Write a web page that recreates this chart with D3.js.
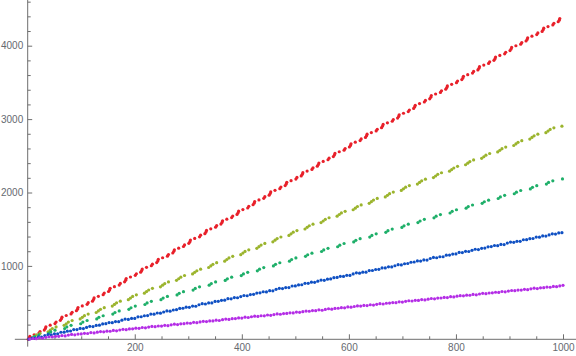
<!DOCTYPE html>
<html><head><meta charset="utf-8">
<script src="https://cdn.jsdelivr.net/npm/d3@7"></script>
<style>html,body{margin:0;padding:0;background:#fff;}svg{display:block;}</style>
</head><body>
<svg id="chart" width="576" height="356"></svg>
<script>
// ---- data ----
const xTicks = [200, 400, 600, 800, 1000];
const xMinorTicks = [50,100,150,250,300,350,450,500,550,650,700,750,850,900,950];
const yTicks = [1000, 2000, 3000, 4000];
const yMinorTicks = [200,400,600,800,1200,1400,1600,1800,2200,2400,2600,2800,3200,3400,3600,3800,4200,4400,4600];

const seriesColors = ["#E8202A", "#9BB42D", "#1EAF69", "#0F50C3", "#B42DE6"];

const redPts = [[1,2],[3,20],[4,40],[12,62],[21,86],[23,106],
[31,126],[33,148],[34,170],[42,192],[51,214],[53,236],
[61,258],[63,280],[64,302],[72,324],[81,346],[83,368],
[91,389],[93,411],[94,433],[102,455],[111,477],[113,499],
[121,520],[123,542],[124,564],[132,586],[141,608],[143,630],
[151,651],[153,673],[154,695],[162,717],[171,739],[173,761],
[181,783],[183,805],[184,827],[192,849],[201,871],[203,893],
[211,914],[213,936],[214,958],[222,980],[231,1002],[233,1024],
[241,1045],[243,1067],[244,1089],[252,1111],[261,1133],[263,1155],
[271,1176],[273,1198],[274,1220],[282,1242],[291,1264],[293,1286],
[301,1308],[303,1330],[304,1352],[312,1374],[321,1396],[323,1418],
[331,1439],[333,1461],[334,1483],[342,1505],[351,1527],[353,1549],
[361,1570],[363,1592],[364,1614],[372,1636],[381,1658],[383,1680],
[391,1701],[393,1723],[394,1745],[402,1767],[411,1789],[413,1811],
[421,1833],[423,1855],[424,1877],[432,1899],[441,1921],[443,1943],
[451,1964],[453,1986],[454,2008],[462,2030],[471,2052],[473,2074],
[481,2095],[483,2117],[484,2139],[492,2161],[501,2183],[503,2205],
[511,2226],[513,2248],[514,2270],[522,2292],[531,2314],[533,2336],
[541,2358],[543,2380],[544,2402],[552,2424],[561,2446],[563,2468],
[571,2489],[573,2511],[574,2533],[582,2555],[591,2577],[593,2599],
[601,2620],[603,2642],[604,2664],[612,2686],[621,2708],[623,2730],
[631,2751],[633,2773],[634,2795],[642,2817],[651,2839],[653,2861],
[661,2883],[663,2905],[664,2927],[672,2949],[681,2971],[683,2993],
[691,3014],[693,3036],[694,3058],[702,3080],[711,3102],[713,3124],
[721,3145],[723,3167],[724,3189],[732,3211],[741,3233],[743,3255],
[751,3276],[753,3298],[754,3320],[762,3342],[771,3364],[773,3386],
[781,3408],[783,3430],[784,3452],[792,3474],[801,3496],[803,3518],
[811,3539],[813,3561],[814,3583],[822,3605],[831,3627],[833,3649],
[841,3670],[843,3692],[844,3714],[852,3736],[861,3758],[863,3780],
[871,3801],[873,3823],[874,3845],[882,3867],[891,3889],[893,3911],
[901,3933],[903,3955],[904,3977],[912,3999],[921,4021],[923,4043],
[931,4064],[933,4086],[934,4108],[942,4130],[951,4152],[953,4174],
[961,4195],[963,4217],[964,4239],[972,4261],[981,4283],[983,4305],
[991,4326],[993,4348],[994,4370]];

const yellowGreenPts = [[8,15],[12,37],[16,59],[23,81],
[38,103],[42,125],[46,147],[53,169],
[68,190],[72,212],[76,234],[83,256],
[98,278],[102,300],[106,322],[113,344],
[128,365],[132,387],[136,409],[143,431],
[158,453],[162,475],[166,497],[173,519],
[188,540],[192,562],[196,584],[203,606],
[218,628],[222,650],[226,672],[233,694],
[248,715],[252,737],[256,759],[263,781],
[278,803],[282,825],[286,847],[293,869],
[308,890],[312,912],[316,934],[323,956],
[338,978],[342,1000],[346,1022],[353,1044],
[368,1065],[372,1087],[376,1109],[383,1131],
[398,1153],[402,1175],[406,1197],[413,1219],
[428,1240],[432,1262],[436,1284],[443,1306],
[458,1328],[462,1350],[466,1372],[473,1394],
[488,1415],[492,1437],[496,1459],[503,1481],
[518,1503],[522,1525],[526,1547],[533,1569],
[548,1590],[552,1612],[556,1634],[563,1656],
[578,1678],[582,1700],[586,1722],[593,1744],
[608,1765],[612,1787],[616,1809],[623,1831],
[638,1853],[642,1875],[646,1897],[653,1919],
[668,1940],[672,1962],[676,1984],[683,2006],
[698,2028],[702,2050],[706,2072],[713,2094],
[728,2115],[732,2137],[736,2159],[743,2181],
[758,2203],[762,2225],[766,2247],[773,2269],
[788,2290],[792,2312],[796,2334],[803,2356],
[818,2378],[822,2400],[826,2422],[833,2444],
[848,2465],[852,2487],[856,2509],[863,2531],
[878,2553],[882,2575],[886,2597],[893,2619],
[908,2640],[912,2662],[916,2684],[923,2706],
[938,2728],[942,2750],[946,2772],[953,2794],
[968,2815],[972,2837],[976,2859],[983,2881],
[998,2903]];

const greenPts = [[9,15],[13,37],[21,59],
[39,80],[43,102],[51,124],
[69,146],[73,168],[81,190],
[99,212],[103,234],[111,256],
[129,277],[133,299],[141,321],
[159,343],[163,365],[171,387],
[189,408],[193,430],[201,452],
[219,474],[223,496],[231,518],
[249,540],[253,562],[261,584],
[279,605],[283,627],[291,649],
[309,671],[313,693],[321,715],
[339,737],[343,759],[351,781],
[369,802],[373,824],[381,846],
[399,868],[403,890],[411,912],
[429,933],[433,955],[441,977],
[459,999],[463,1021],[471,1043],
[489,1065],[493,1087],[501,1109],
[519,1130],[523,1152],[531,1174],
[549,1196],[553,1218],[561,1240],
[579,1261],[583,1283],[591,1305],
[609,1327],[613,1349],[621,1371],
[639,1393],[643,1415],[651,1437],
[669,1458],[673,1480],[681,1502],
[699,1524],[703,1546],[711,1568],
[729,1590],[733,1612],[741,1634],
[759,1655],[763,1677],[771,1699],
[789,1721],[793,1743],[801,1765],
[819,1786],[823,1808],[831,1830],
[849,1852],[853,1874],[861,1896],
[879,1918],[883,1940],[891,1962],
[909,1983],[913,2005],[921,2027],
[939,2049],[943,2071],[951,2093],
[969,2115],[973,2137],[981,2159],
[999,2185]];

const bluePts = [[2,3],[8,18],[14,16],[20,32],[26,30],[32,51],[38,65],[44,61],[50,75],[56,75],[62,96],[68,97],
[74,111],[80,113],[86,133],[92,132],[98,148],[104,146],[110,162],[116,177],[122,173],[128,189],[134,193],[140,210],
[146,213],[152,228],[158,226],[164,242],[170,240],[176,261],[182,275],[188,271],[194,285],[200,285],[206,306],[212,307],
[218,321],[224,323],[230,343],[236,342],[242,358],[248,356],[254,372],[260,387],[266,383],[272,399],[278,403],[284,420],
[290,423],[296,438],[302,436],[308,452],[314,450],[320,471],[326,485],[332,481],[338,495],[344,495],[350,516],[356,517],
[362,531],[368,533],[374,553],[380,552],[386,568],[392,566],[398,582],[404,597],[410,593],[416,609],[422,613],[428,630],
[434,633],[440,648],[446,646],[452,662],[458,660],[464,681],[470,695],[476,691],[482,705],[488,705],[494,726],[500,727],
[506,741],[512,743],[518,763],[524,762],[530,778],[536,776],[542,792],[548,807],[554,803],[560,819],[566,823],[572,840],
[578,843],[584,858],[590,856],[596,872],[602,870],[608,891],[614,905],[620,901],[626,915],[632,915],[638,936],[644,937],
[650,951],[656,953],[662,973],[668,972],[674,988],[680,986],[686,1002],[692,1017],[698,1013],[704,1029],[710,1033],[716,1050],
[722,1053],[728,1068],[734,1066],[740,1082],[746,1080],[752,1101],[758,1115],[764,1111],[770,1125],[776,1125],[782,1146],[788,1147],
[794,1161],[800,1163],[806,1183],[812,1182],[818,1198],[824,1196],[830,1212],[836,1227],[842,1223],[848,1239],[854,1243],[860,1260],
[866,1263],[872,1278],[878,1276],[884,1292],[890,1290],[896,1311],[902,1325],[908,1321],[914,1335],[920,1335],[926,1356],[932,1357],
[938,1371],[944,1373],[950,1393],[956,1392],[962,1408],[968,1406],[974,1422],[980,1437],[986,1433],[992,1449],[998,1453]];

const purplePts = [[4,3],[10,11],[16,9],[22,21],[28,17],[34,27],[40,35],[46,32],
[52,41],[58,40],[64,51],[70,46],[76,57],[82,66],[88,61],[94,71],
[100,73],[106,81],[112,79],[118,91],[124,87],[130,97],[136,105],[142,102],
[148,111],[154,110],[160,121],[166,116],[172,127],[178,136],[184,131],[190,141],
[196,143],[202,151],[208,149],[214,161],[220,157],[226,167],[232,175],[238,172],
[244,181],[250,180],[256,191],[262,186],[268,197],[274,206],[280,201],[286,211],
[292,213],[298,221],[304,219],[310,231],[316,227],[322,237],[328,245],[334,242],
[340,251],[346,250],[352,261],[358,256],[364,267],[370,276],[376,271],[382,281],
[388,283],[394,291],[400,289],[406,301],[412,297],[418,307],[424,315],[430,312],
[436,321],[442,320],[448,331],[454,326],[460,337],[466,346],[472,341],[478,351],
[484,353],[490,361],[496,359],[502,371],[508,367],[514,377],[520,385],[526,382],
[532,391],[538,390],[544,401],[550,396],[556,407],[562,416],[568,411],[574,421],
[580,423],[586,431],[592,429],[598,441],[604,437],[610,447],[616,455],[622,452],
[628,461],[634,460],[640,471],[646,466],[652,477],[658,486],[664,481],[670,491],
[676,493],[682,501],[688,499],[694,511],[700,507],[706,517],[712,525],[718,522],
[724,531],[730,530],[736,541],[742,536],[748,547],[754,556],[760,551],[766,561],
[772,563],[778,571],[784,569],[790,581],[796,577],[802,587],[808,595],[814,592],
[820,601],[826,600],[832,611],[838,606],[844,617],[850,626],[856,621],[862,631],
[868,633],[874,641],[880,639],[886,651],[892,647],[898,657],[904,665],[910,662],
[916,671],[922,670],[928,681],[934,676],[940,687],[946,696],[952,691],[958,701],
[964,703],[970,711],[976,709],[982,721],[988,717],[994,727],[1000,735]];

const seriesData = [redPts, yellowGreenPts, greenPts, bluePts, purplePts];

// ---- layout ----
const svg = d3.select("#chart");
const x = d3.scaleLinear().domain([0, 1000]).range([27.7, 563]);
const y = d3.scaleLinear().domain([0, 4000]).range([339.3, 45.7]);
const axisColor = "#6e6e6e";
const labelColor = "#666a70";
const font = "'Liberation Sans', Arial, sans-serif";

// axis lines
svg.append("line").attr("x1", x(-24)).attr("x2", 576).attr("y1", y(0)).attr("y2", y(0))
  .attr("stroke", axisColor).attr("stroke-width", 1);
svg.append("line").attr("x1", x(0)).attr("x2", x(0)).attr("y1", 0).attr("y2", y(-100))
  .attr("stroke", axisColor).attr("stroke-width", 1);

function styleAxis(g) {
  g.select(".domain").remove();
  g.selectAll(".tick line").attr("stroke", axisColor).attr("stroke-width", 1);
  g.selectAll(".tick text").attr("fill", labelColor).style("font-family", font).style("font-size", "10px");
}

// x axis
svg.append("g").attr("transform", `translate(0,${y(0)})`)
  .call(d3.axisBottom(x).tickValues(xMinorTicks).tickSize(-3).tickFormat(""))
  .call(styleAxis);
svg.append("g").attr("transform", `translate(0,${y(0)})`)
  .call(d3.axisBottom(x).tickValues(xTicks).tickSize(-5).tickPadding(5).tickFormat(d3.format("d")))
  .call(styleAxis);

// y axis
svg.append("g").attr("transform", `translate(${x(0)},0)`)
  .call(d3.axisLeft(y).tickValues(yMinorTicks).tickSize(-3).tickFormat(""))
  .call(styleAxis);
svg.append("g").attr("transform", `translate(${x(0)},0)`)
  .call(d3.axisLeft(y).tickValues(yTicks).tickSize(-4.5).tickPadding(4.5).tickFormat(d3.format("d")))
  .call(styleAxis);

// points
svg.append("g").selectAll("g").data(seriesData).join("g")
  .attr("fill", (d, i) => seriesColors[i])
  .selectAll("circle").data(d => d).join("circle")
  .attr("cx", d => x(d[0])).attr("cy", d => y(d[1])).attr("r", 1.6);
</script>
</body></html>
